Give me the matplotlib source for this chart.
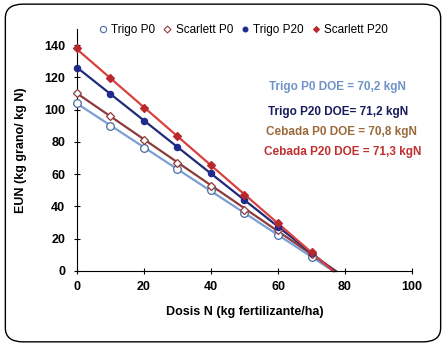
import matplotlib
matplotlib.use("Agg")
import matplotlib.pyplot as plt
import numpy as np
from matplotlib.patches import FancyBboxPatch
from matplotlib.lines import Line2D

plt.rcParams.update({
    "font.family": ["Liberation Sans", "DejaVu Sans"],
    "font.size": 8,
})

# dosis de N (kg/ha) y eficiencia de uso de N observada
dosis = [0, 10, 20, 30, 40, 50, 60, 70]
trigo_p0 = [104, 90, 76.5, 63, 50, 36, 22.5, 8.5]
scarlett_p0 = [110.5, 96, 81.5, 67, 53, 38, 25.5, 10.5]
trigo_p20 = [126, 110, 93, 77, 60.5, 44, 27.5, 11]
scarlett_p20 = [138, 119.5, 101, 83.5, 65.5, 47, 29.5, 12]

series = [
    ("Trigo P0", trigo_p0, "#7b9fd4", dict(marker="o", mfc="white", mec="#4a6aa0", ms=5.5)),
    ("Scarlett P0", scarlett_p0, "#8e3a3a", dict(marker="D", mfc="white", mec="#8e3a3a", ms=4.5)),
    ("Trigo P20", trigo_p20, "#1f2a7a", dict(marker="o", mfc="#1f2a8c", mec="#1f2a8c", ms=4.5)),
    ("Scarlett P20", scarlett_p20, "#d9403e", dict(marker="D", mfc="#b8282c", mec="#b8282c", ms=4)),
]

doe_labels = ["Trigo P0 DOE = 70,2 kgN", "Trigo P20 DOE= 71,2 kgN",
              "Cebada P0 DOE = 70,8 kgN", "Cebada P20 DOE = 71,3 kgN"]
doe_colors = ["#6f93c8", "#1a1a5e", "#9a6a3a", "#c0302f"]

fig = plt.figure(figsize=(4.46, 3.46), dpi=100)
frame = FancyBboxPatch((0.012, 0.012), 0.976, 0.976, boxstyle="round,pad=0,rounding_size=0.04",
                       transform=fig.transFigure, fc="white", ec="black", lw=1.0, zorder=-5)
fig.patches.append(frame)

ax = fig.add_axes([0.1726, 0.2168, 0.7512, 0.6992], zorder=2)
ax.set_facecolor("none")

x = np.array(dosis, dtype=float)
handles = []
for name, vals, color, mk in series:
    y = np.array(vals, dtype=float)
    m, b = np.polyfit(x, y, 1)
    x_end = -b / m
    xx = np.array([0, x_end])
    ax.plot(xx, m * xx + b, color=color, lw=1.6, zorder=2, clip_on=False)
    ax.plot(x, y, ls="none", zorder=3, mew=0.9, clip_on=False, **mk)
    handles.append(Line2D([], [], ls="none", label=name, mew=0.8,
                          **{**mk, "ms": mk["ms"] - 1}))

ax.set_xlim(0, 100)
ax.set_ylim(0, 150)
ax.set_xticks(range(0, 101, 20))
ax.set_yticks(range(0, 141, 20))
for s in ["top", "right"]:
    ax.spines[s].set_visible(False)
ax.tick_params(direction="inout", length=5, width=0.8, labelsize=9)
ax.tick_params(axis="y", pad=6)
ax.tick_params(axis="x", pad=5)
for lbl in ax.get_xticklabels() + ax.get_yticklabels():
    lbl.set_fontweight("bold")

ax.set_xlabel("Dosis N (kg fertilizante/ha)", fontsize=9, fontweight="bold", labelpad=9)
ax.set_ylabel("EUN (kg grano/ kg N)", fontsize=9, fontweight="bold", labelpad=12)

ys = [86.7, 112, 132, 151.7]
xs = [337, 338, 341, 343]
for t, c, xp, yp in zip(doe_labels, doe_colors, xs, ys):
    fig.text(xp / 446, 1 - yp / 346, t, color=c, fontsize=8.5, fontweight="bold",
             ha="center", va="center")

fig.legend(handles=handles, loc="center", bbox_to_anchor=(0.545, 0.913), ncol=4,
           frameon=False, fontsize=8.5, handlelength=0.8, handletextpad=0.3,
           columnspacing=0.6, borderpad=0)

fig.savefig("out.png", dpi=100)
